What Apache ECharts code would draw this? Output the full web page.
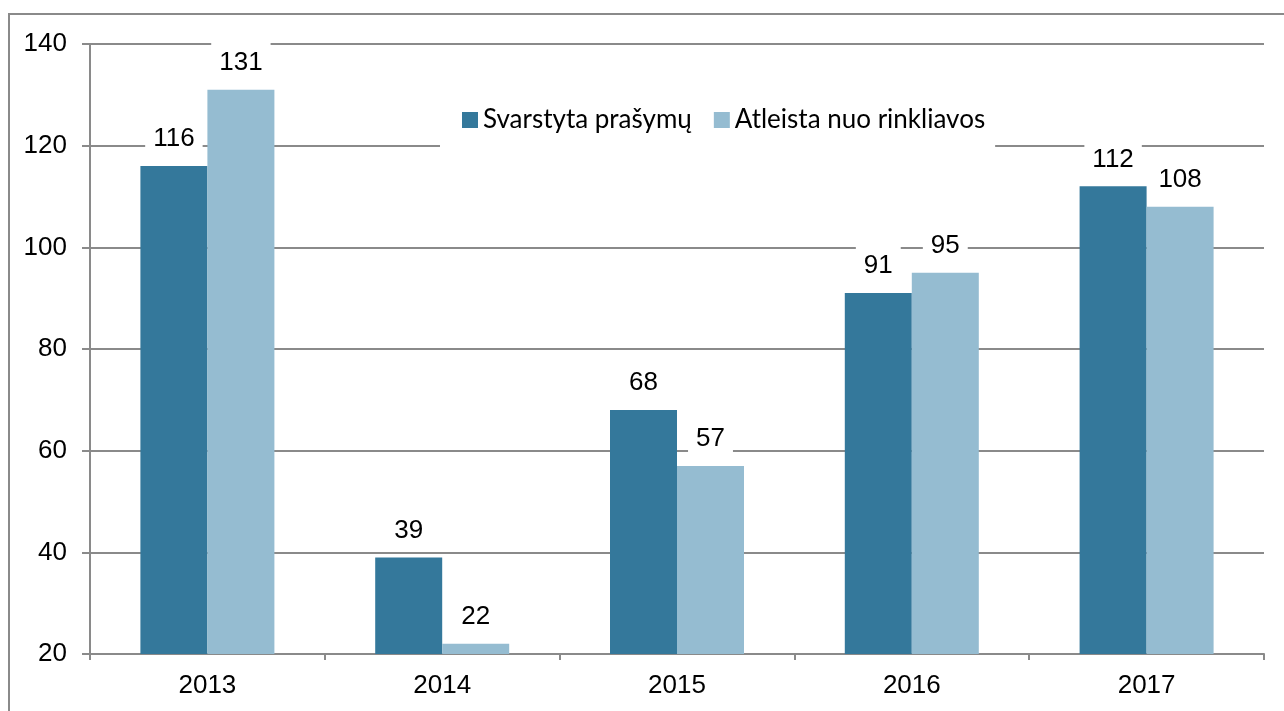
<!DOCTYPE html>
<html>
<head>
<meta charset="utf-8">
<script src="https://cdn.jsdelivr.net/npm/echarts@6/dist/echarts.min.js"></script>
<style>
html,body{margin:0;padding:0;background:#fff;}
#chart{width:1284px;height:711px;}
</style>
</head>
<body>
<div id="chart"></div>
<script>
const categories = ['2013', '2014', '2015', '2016', '2017'];
const svarstyta = [116, 39, 68, 91, 112];
const atleista = [131, 22, 57, 95, 108];
const seriesNames = ['Svarstyta prašymų', 'Atleista nuo rinkliavos'];

const chart = echarts.init(document.getElementById('chart'));
const gridColor = '#8a8a8a';
const numFont = '"Liberation Sans", Arial, sans-serif';
const labelStyle = {
  show: true,
  position: 'top',
  distance: 6,
  fontFamily: numFont,
  fontSize: 26,
  lineHeight: 26,
  color: '#000',
  backgroundColor: '#fff',
  padding: [8, 8]
};
chart.setOption({
  animation: false,
  graphic: [{
    type: 'rect',
    shape: { x: 9, y: 14, width: 1300, height: 720 },
    style: { fill: 'none', stroke: gridColor, lineWidth: 2 },
    z: 100
  }],
  grid: { left: 90, right: 20, top: 44, bottom: 57, containLabel: false },
  legend: {
    data: seriesNames,
    left: 440,
    top: 97,
    padding: [10, 10, 27, 22],
    backgroundColor: '#fff',
    icon: 'rect',
    itemWidth: 16,
    itemHeight: 16,
    itemGap: 22,
    textStyle: { fontFamily: 'Lato, sans-serif', fontSize: 26, color: '#000' },
    z: 10
  },
  xAxis: {
    type: 'category',
    data: categories,
    axisLine: { show: true, lineStyle: { color: gridColor, width: 2 } },
    axisTick: { show: true, length: 6, lineStyle: { color: gridColor, width: 2 } },
    axisLabel: { margin: 19, fontFamily: numFont, fontSize: 26, color: '#000' },
    splitLine: { show: false }
  },
  yAxis: {
    type: 'value',
    min: 20,
    max: 140,
    interval: 20,
    axisLine: { show: true, lineStyle: { color: gridColor, width: 2 } },
    axisTick: { show: true, length: 8, lineStyle: { color: gridColor, width: 2 } },
    axisLabel: { margin: 23, fontFamily: numFont, fontSize: 26, color: '#000' },
    splitLine: { show: true, lineStyle: { color: gridColor, width: 2 } }
  },
  series: [
    {
      name: seriesNames[0],
      type: 'bar',
      data: svarstyta,
      barWidth: 67,
      barGap: '0%',
      itemStyle: { color: '#34789b' },
      label: labelStyle
    },
    {
      name: seriesNames[1],
      type: 'bar',
      data: atleista,
      barWidth: 67,
      barGap: '0%',
      itemStyle: { color: '#95bcd1' },
      label: labelStyle
    }
  ]
});
</script>
</body>
</html>
